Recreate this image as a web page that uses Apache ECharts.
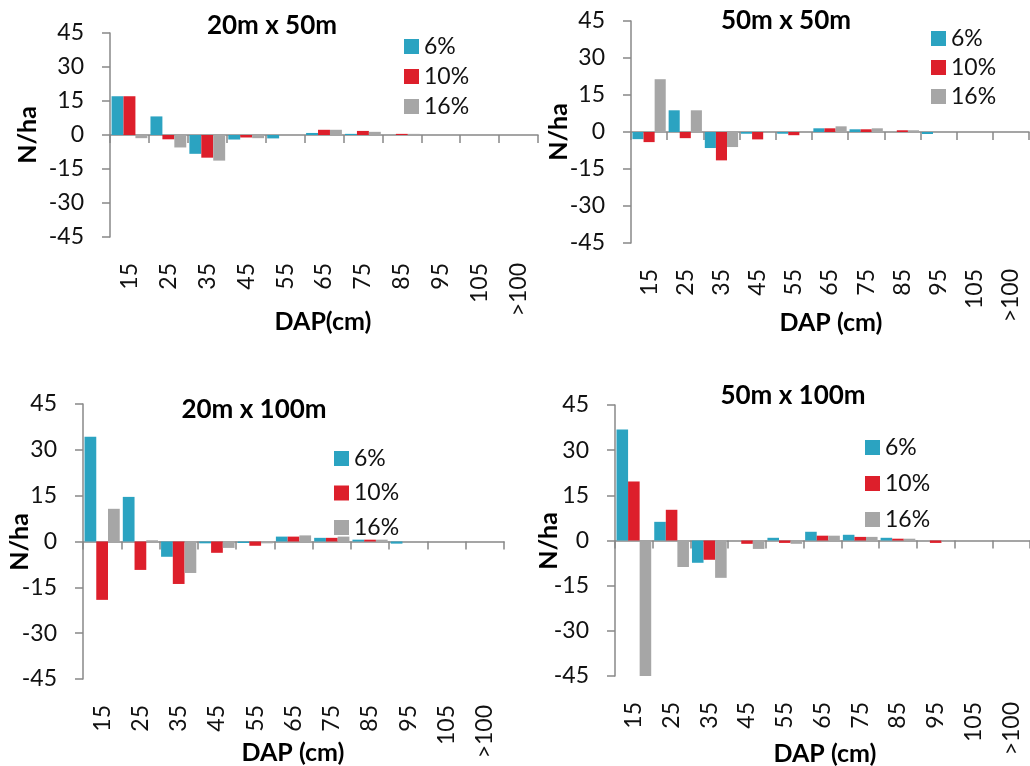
<!DOCTYPE html>
<html>
<head>
<meta charset="utf-8">
<script src="https://cdn.jsdelivr.net/npm/echarts@6/dist/echarts.min.js"></script>
<style>html,body{margin:0;padding:0;background:#fff;}#c{width:1030px;height:766px;}</style>
</head>
<body>
<div id="c"></div>
<script>
var categories = ['15','25','35','45','55','65','75','85','95','105','>100'];
var seriesNames = ['6%','10%','16%'];
var yTicks = {min: -45, max: 45, interval: 15};

// 20m x 50m
var p1_6  = [17.1, 8.2, -8.3, -2.0, -1.5, 0.9, 0.5, 0, 0, 0, 0];
var p1_10 = [17.1, -1.9, -10.0, -1.1, 0, 2.3, 1.8, 0.5, 0, 0, 0];
var p1_16 = [-1.4, -5.5, -11.3, -1.4, 0, 2.3, 1.4, 0.5, 0, 0, 0];
// 50m x 50m
var p2_6  = [-2.9, 8.8, -6.5, -0.7, -0.7, 1.5, 1.1, 0, -0.8, 0, 0];
var p2_10 = [-4.1, -2.5, -11.5, -3.0, -1.3, 1.5, 1.1, 0.7, 0, 0, 0];
var p2_16 = [21.4, 8.8, -6.1, 0, 0, 2.3, 1.5, 0.7, 0, 0, 0];
// 20m x 100m
var p3_6  = [34.3, 14.6, -5.0, -0.6, -0.5, 1.6, 1.2, 0.6, -0.7, 0, 0];
var p3_10 = [-19.1, -9.3, -13.9, -3.7, -1.4, 1.6, 1.2, 0.6, 0, 0, 0];
var p3_16 = [10.7, 0.4, -10.3, -2.1, -0.6, 2.0, 1.6, 0.6, 0, 0, 0];
// 50m x 100m
var p4_6  = [36.9, 6.2, -7.4, 0, 0.9, 2.9, 1.9, 0.9, 0, 0, 0];
var p4_10 = [19.6, 10.2, -6.4, -1.1, -0.8, 1.6, 1.2, 0.6, -0.8, 0, 0];
var p4_16 = [-45, -8.8, -12.4, -2.8, -1.1, 1.6, 1.2, 0.6, -0.5, 0, 0];

var panels = [
  {title:'20m x 50m', xname:'DAP(cm)', data:[p1_6,p1_10,p1_16],
   grid:{left:110, top:33, width:428, height:204},
   legend:{left:404, top:35, gap:7},
   titlePos:[272,26], yNamePos:[28,135], xNamePos:[323,322]},
  {title:'50m x 50m', xname:'DAP (cm)', data:[p2_6,p2_10,p2_16],
   grid:{left:631, top:21, width:398, height:222},
   legend:{left:931, top:27, gap:6},
   titlePos:[786,21], yNamePos:[559,132], xNamePos:[831,323]},
  {title:'20m x 100m', xname:'DAP (cm)', data:[p3_6,p3_10,p3_16],
   grid:{left:83, top:404, width:421, height:275},
   legend:{left:334, top:447, gap:11.5},
   titlePos:[254,409.5], yNamePos:[20,542], xNamePos:[293,753]},
  {title:'50m x 100m', xname:'DAP (cm)', data:[p4_6,p4_10,p4_16],
   grid:{left:615, top:405, width:422, height:271},
   legend:{left:865, top:436, gap:13},
   titlePos:[793,396], yNamePos:[549,541], xNamePos:[825,754]}
];

var colors = ['#2BA3C1', '#DD1F2B', '#A6A6A6'];
var FONT = 'Lato';
var axisColor = '#888888';

var option = {
  animation: false,
  backgroundColor: '#ffffff',
  color: colors,
  grid: [], xAxis: [], yAxis: [], series: [], legend: [], graphic: []
};

panels.forEach(function(p, i){
  option.grid.push({left:p.grid.left, top:p.grid.top, width:p.grid.width, height:p.grid.height, containLabel:false});
  // label axis at bottom
  option.xAxis.push({
    type:'category', gridIndex:i, data:categories, position:'bottom',
    axisLine:{show:false, onZero:false}, axisTick:{show:false},
    axisLabel:{rotate:90, margin:26, fontFamily:FONT, fontSize:23, color:'#111'}
  });
  // zero line axis
  option.xAxis.push({
    type:'category', gridIndex:i, data:categories, position:'bottom',
    axisLine:{show:true, onZero:true, lineStyle:{color:axisColor, width:1.5}},
    axisTick:{show:true, length:8, lineStyle:{color:axisColor, width:1.5}},
    axisLabel:{show:false}
  });
  option.yAxis.push({
    type:'value', gridIndex:i, min:yTicks.min, max:yTicks.max, interval:yTicks.interval,
    axisLine:{show:true, lineStyle:{color:axisColor, width:1.5}},
    axisTick:{show:true, length:8, lineStyle:{color:axisColor, width:1.5}},
    splitLine:{show:false},
    axisLabel:{margin:26, fontFamily:FONT, fontSize:23, color:'#111'}
  });
  p.data.forEach(function(d, k){
    option.series.push({
      type:'bar', name:seriesNames[k], xAxisIndex:i*2+1, yAxisIndex:i, data:d,
      barGap:'0%', barCategoryGap:'8%', itemStyle:{color:colors[k]}
    });
  });
  option.legend.push({
    orient:'vertical', left:p.legend.left, top:p.legend.top, itemGap:p.legend.gap,
    padding:0, itemWidth:15, itemHeight:15, icon:'rect', selectedMode:false,
    data:seriesNames,
    textStyle:{fontFamily:FONT, fontSize:23, color:'#111'}
  });
  option.graphic.push({type:'text', x:p.titlePos[0], y:p.titlePos[1],
    style:{text:p.title, font:'bold 26px ' + FONT, fill:'#000', align:'center', verticalAlign:'middle'}});
  option.graphic.push({type:'text', x:p.yNamePos[0], y:p.yNamePos[1], rotation:Math.PI/2,
    style:{text:'N/ha', font:'bold 25px ' + FONT, fill:'#000', align:'center', verticalAlign:'middle'}});
  option.graphic.push({type:'text', x:p.xNamePos[0], y:p.xNamePos[1],
    style:{text:p.xname, font:'bold 25px ' + FONT, fill:'#000', align:'center', verticalAlign:'middle'}});
});

var chart = echarts.init(document.getElementById('c'), null, {renderer:'canvas'});
chart.setOption(option);
</script>
</body>
</html>
